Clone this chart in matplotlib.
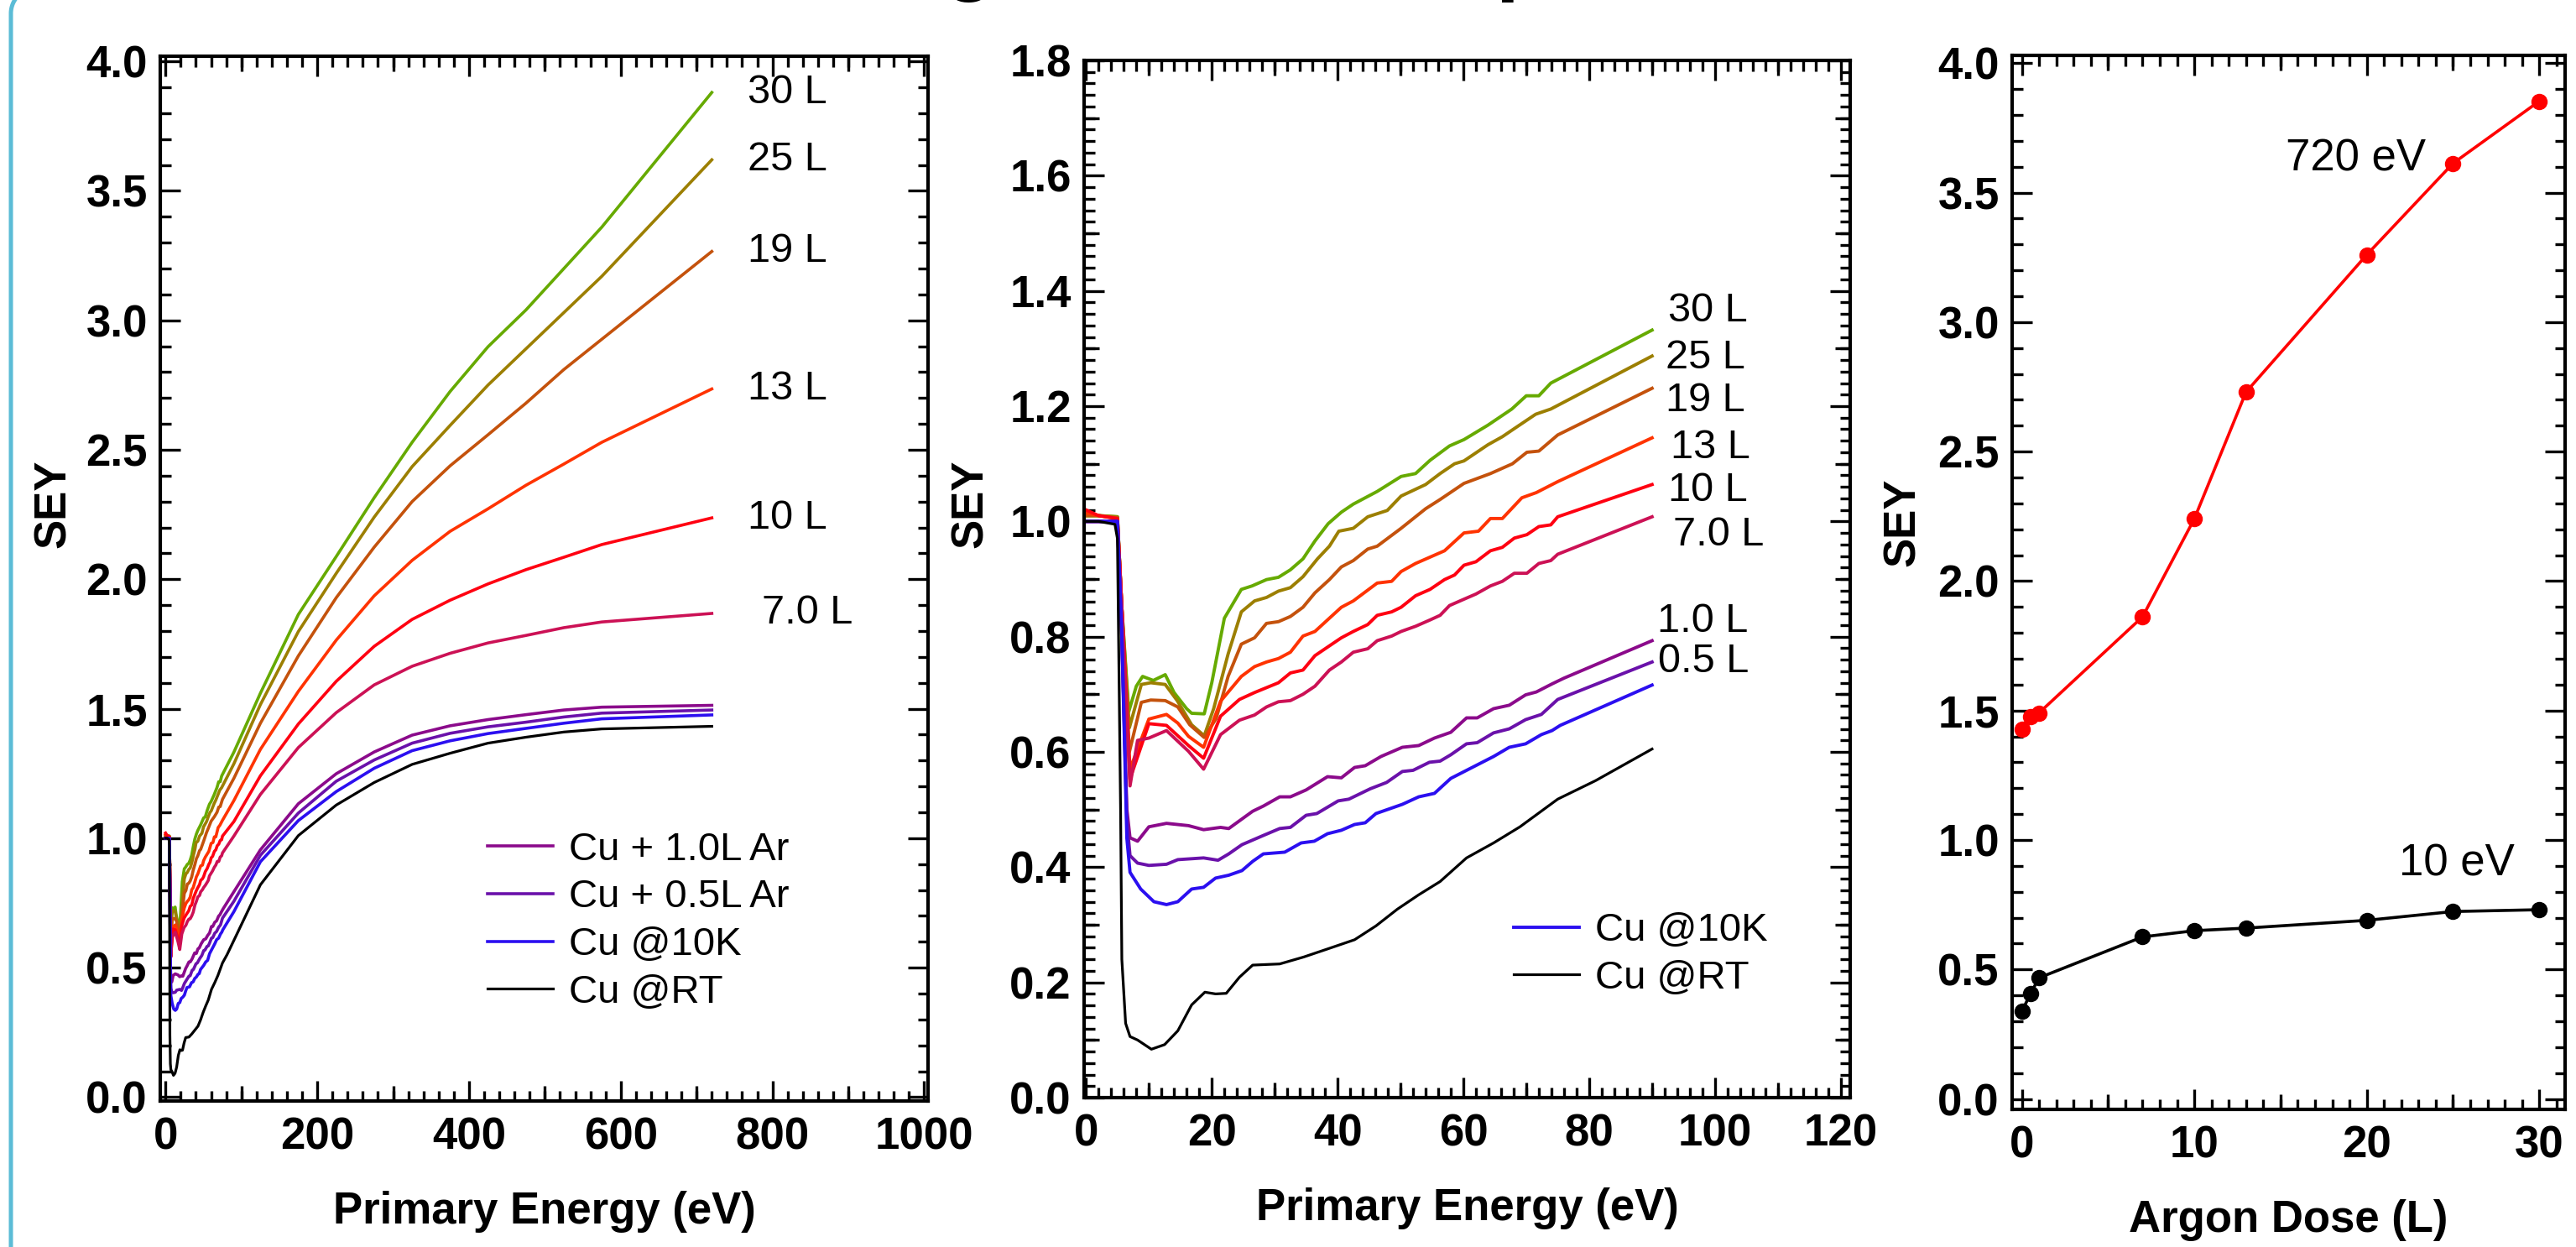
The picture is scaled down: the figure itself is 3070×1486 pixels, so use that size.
import matplotlib
matplotlib.use("Agg")
import numpy as np
import matplotlib.pyplot as plt
from matplotlib import font_manager
from matplotlib.lines import Line2D
from matplotlib.ticker import MultipleLocator, FormatStrFormatter

names = {f.name for f in font_manager.fontManager.ttflist}
NARROW = 'Liberation Sans Narrow' if 'Liberation Sans Narrow' in names else 'Liberation Sans'
plt.rcParams['font.family'] = ['Liberation Sans', 'DejaVu Sans']
plt.rcParams['font.weight'] = 'bold'
plt.rcParams['axes.labelweight'] = 'bold'

# ---- low-energy SEY curves (0-90 eV) ----
e_30L = [0, 2, 5, 5.7, 6.8, 8, 9, 10.7, 12.6, 14, 16, 16.8, 18.8, 20, 22, 24.7, 26.4, 28.7, 30.6, 32.5, 34.5,
         36.4, 38.5, 40.6, 42.5, 46.3, 50.1, 52.4, 54.7, 57.8, 60.1, 63.9, 67.7, 70, 72, 73.9, 90]
s_30L = [1.01, 1.01, 1.008, 0.85, 0.67, 0.714, 0.731, 0.724, 0.734, 0.703, 0.675, 0.667, 0.666, 0.72, 0.832, 0.882,
         0.888, 0.899, 0.903, 0.916, 0.935, 0.966, 0.996, 1.016, 1.03, 1.052, 1.078, 1.083, 1.106, 1.131, 1.142,
         1.167, 1.195, 1.218, 1.218, 1.24, 1.332]
e_25L = [0, 2, 5, 5.7, 6.9, 8.8, 10.3, 12.6, 14.5, 16.8, 18.8, 20.3, 22.6, 24.7, 26.8, 28.7, 30.6, 32.5, 34.5,
         36.8, 38.7, 40.2, 42.5, 44.8, 47.9, 50.1, 54, 56.3, 58.6, 60.1, 63.9, 66.2, 68.5, 71.5, 73.9, 90]
s_25L = [1.01, 1.01, 1.008, 0.85, 0.642, 0.717, 0.72, 0.717, 0.689, 0.647, 0.628, 0.675, 0.77, 0.843, 0.862, 0.868,
         0.879, 0.885, 0.904, 0.935, 0.957, 0.983, 0.988, 1.008, 1.019, 1.044, 1.064, 1.083, 1.1, 1.105, 1.133,
         1.147, 1.164, 1.186, 1.195, 1.287]
e_19L = [0, 2, 5, 5.7, 6.9, 8.8, 10.3, 12.6, 14.6, 16.5, 18.8, 20.7, 22.6, 24.7, 26.8, 28.7, 30.6, 32.5, 34.5,
         36.4, 38.7, 40.6, 42.5, 44.8, 46.3, 50.1, 54, 56.3, 60.1, 64.3, 67.8, 70.1, 72, 75, 90]
s_19L = [1.01, 1.01, 1.006, 0.85, 0.60, 0.686, 0.69, 0.689, 0.678, 0.647, 0.625, 0.658, 0.731, 0.787, 0.798, 0.823,
         0.826, 0.835, 0.851, 0.876, 0.899, 0.921, 0.932, 0.952, 0.957, 0.988, 1.022, 1.038, 1.066, 1.083, 1.1,
         1.12, 1.122, 1.15, 1.231]
e_13L = [0, 2, 5, 5.7, 7, 10, 12.8, 14.6, 16.3, 18.7, 21.4, 24.7, 26.8, 28.7, 30.6, 32.5, 34.5, 36.4, 38.7, 40.6,
         42.5, 46.3, 48.6, 50.1, 52.4, 54.7, 57, 60.1, 62.4, 64.3, 66.2, 69.3, 71.6, 75, 90]
s_13L = [1.015, 1.01, 1.005, 0.85, 0.57, 0.657, 0.665, 0.65, 0.627, 0.608, 0.688, 0.731, 0.748, 0.756, 0.762,
         0.773, 0.801, 0.809, 0.832, 0.851, 0.862, 0.893, 0.896, 0.913, 0.927, 0.938, 0.949, 0.98, 0.983, 1.005,
         1.005, 1.041, 1.05, 1.069, 1.145]
e_10L = [0, 2, 5, 5.7, 7, 10, 12.8, 16.3, 18.7, 21.4, 24.4, 26.8, 30.6, 32.5, 34.5, 36.4, 38.7, 40.6, 42.5, 44.8,
         46.3, 48.6, 50.1, 52.4, 54.7, 57, 58.6, 60.1, 62, 64.3, 66.2, 68.1, 70.1, 72, 73.9, 75, 90]
s_10L = [1.02, 1.01, 1.005, 0.85, 0.553, 0.649, 0.646, 0.611, 0.589, 0.662, 0.691, 0.703, 0.72, 0.737, 0.742,
         0.767, 0.784, 0.798, 0.809, 0.821, 0.837, 0.843, 0.851, 0.871, 0.882, 0.899, 0.907, 0.924, 0.93, 0.949,
         0.955, 0.971, 0.977, 0.991, 0.994, 1.008, 1.064]
e_7L = [0, 2, 5, 5.7, 7, 8.2, 10, 12.8, 16.3, 18.7, 21.4, 24.4, 26.8, 28.7, 30.6, 32.5, 34.5, 36.4, 38.7, 40.6,
        42.5, 44.8, 46.3, 48.6, 50.1, 52.4, 54.7, 56.3, 57.8, 60.1, 62, 64.3, 66.2, 68.1, 70.1, 72, 73.9, 75, 90]
s_7L = [1.0, 1.0, 1.0, 0.85, 0.541, 0.62, 0.624, 0.637, 0.601, 0.57, 0.63, 0.655, 0.664, 0.678, 0.687, 0.689, 0.70,
        0.714, 0.742, 0.756, 0.773, 0.779, 0.793, 0.801, 0.809, 0.818, 0.829, 0.837, 0.854, 0.865, 0.874, 0.888,
        0.896, 0.91, 0.91, 0.927, 0.932, 0.943, 1.008]
e_1L = [0, 2, 5, 5.7, 6.5, 7, 8.2, 10, 12.8, 16.3, 18.7, 21.4, 22.7, 26.5, 28.2, 30.8, 32.5, 35, 38.4, 40.6, 42.7,
        44.4, 46.9, 50.3, 52.9, 55.4, 58, 60.5, 62.2, 64.8, 67.3, 69.9, 71.6, 74.1, 76, 90]
s_1L = [1.0, 1.0, 1.0, 0.8, 0.5, 0.451, 0.445, 0.47, 0.476, 0.472, 0.465, 0.469, 0.467, 0.497, 0.506, 0.522, 0.522,
        0.534, 0.557, 0.555, 0.573, 0.576, 0.592, 0.608, 0.611, 0.624, 0.634, 0.659, 0.659, 0.675, 0.681, 0.699,
        0.704, 0.718, 0.728, 0.793]
e_05L = [0, 2, 5, 5.7, 6.5, 7, 8.2, 10, 12.8, 14.6, 18.7, 21, 22.7, 24.8, 28.2, 30.8, 32.5, 35, 36.7, 40.1, 41.8,
         45.2, 47.8, 50.3, 52, 54.6, 56.3, 58, 60.5, 62.2, 64.8, 67.3, 69.9, 72.4, 75, 90]
s_05L = [1.0, 1.0, 1.0, 0.8, 0.48, 0.42, 0.407, 0.403, 0.405, 0.413, 0.416, 0.412, 0.423, 0.439, 0.455, 0.467, 0.469,
         0.49, 0.493, 0.515, 0.518, 0.536, 0.547, 0.566, 0.568, 0.582, 0.584, 0.595, 0.614, 0.616, 0.633, 0.64,
         0.656, 0.665, 0.691, 0.756]
e_10K = [0, 2, 5, 5.7, 6.5, 7, 8.7, 10.8, 12.8, 14.6, 16.8, 18.7, 20.6, 22.7, 24.8, 26.5, 28.2, 31.6, 34.2, 36.3,
         38.4, 40.6, 42.7, 44.4, 46.1, 50.3, 52.9, 55.4, 58, 61.4, 64.8, 67.3, 69.9, 72.4, 74.1, 75.4, 90]
s_10K = [1.0, 1.0, 1.0, 0.8, 0.45, 0.391, 0.362, 0.34, 0.335, 0.34, 0.362, 0.365, 0.381, 0.386, 0.394, 0.41, 0.423,
         0.426, 0.442, 0.445, 0.458, 0.464, 0.474, 0.477, 0.493, 0.509, 0.522, 0.528, 0.554, 0.573, 0.592, 0.608,
         0.614, 0.63, 0.637, 0.646, 0.716]
e_RT = [0, 2, 4.6, 5, 5.5, 5.7, 6.3, 7, 8.2, 10.4, 12.5, 14.6, 16.8, 18.9, 20.6, 22.3, 24.4, 26.5, 30.8, 34.6, 38.4,
        42.7, 46.1, 49.5, 52.9, 56.3, 60.5, 64.8, 69, 75, 81, 90]
s_RT = [1.0, 1.0, 0.995, 0.97, 0.5, 0.24, 0.129, 0.106, 0.1, 0.084, 0.092, 0.116, 0.161, 0.183, 0.18, 0.181, 0.209,
        0.23, 0.232, 0.244, 0.258, 0.274, 0.298, 0.327, 0.352, 0.375, 0.416, 0.442, 0.47, 0.518, 0.55, 0.605]

# ---- high-energy points (left panel only) ----
e_hi = [125, 175, 225, 275, 325, 375, 425, 475, 525, 575, 720]
hi_30L = [1.56, 1.864, 2.088, 2.315, 2.529, 2.725, 2.898, 3.04, 3.20, 3.36, 3.88]
hi_25L = [1.516, 1.798, 2.023, 2.24, 2.435, 2.594, 2.75, 2.89, 3.03, 3.17, 3.62]
hi_19L = [1.444, 1.704, 1.929, 2.124, 2.30, 2.438, 2.558, 2.68, 2.81, 2.927, 3.266]
hi_13L = [1.343, 1.567, 1.765, 1.936, 2.073, 2.185, 2.272, 2.363, 2.445, 2.529, 2.735]
hi_10L = [1.241, 1.441, 1.606, 1.741, 1.845, 1.919, 1.982, 2.037, 2.085, 2.134, 2.237]
hi_7L = [1.169, 1.35, 1.485, 1.592, 1.664, 1.714, 1.754, 1.783, 1.813, 1.835, 1.868]
hi_1L = [0.955, 1.133, 1.249, 1.333, 1.398, 1.434, 1.458, 1.477, 1.495, 1.506, 1.513]
hi_05L = [0.934, 1.097, 1.22, 1.302, 1.367, 1.405, 1.43, 1.448, 1.468, 1.483, 1.495]
hi_10K = [0.909, 1.068, 1.18, 1.27, 1.338, 1.376, 1.404, 1.424, 1.444, 1.461, 1.476]
hi_RT = [0.82, 1.01, 1.128, 1.215, 1.285, 1.328, 1.367, 1.39, 1.41, 1.422, 1.432]

# ---- SEY vs argon dose ----
dose = [0, 0.5, 1.0, 7, 10, 13, 20, 25, 30]
sey_720 = [1.427, 1.475, 1.491, 1.862, 2.24, 2.73, 3.26, 3.613, 3.853]
sey_10 = [0.338, 0.406, 0.468, 0.626, 0.65, 0.66, 0.69, 0.724, 0.731]

curves = [  # label, colour, low E, low SEY, high SEY
    ('30 L', '#66aa00', e_30L, s_30L, hi_30L),
    ('25 L', '#9c7f00', e_25L, s_25L, hi_25L),
    ('19 L', '#c4520c', e_19L, s_19L, hi_19L),
    ('13 L', '#ff3300', e_13L, s_13L, hi_13L),
    ('10 L', '#ff0011', e_10L, s_10L, hi_10L),
    ('7.0 L', '#cc1155', e_7L, s_7L, hi_7L),
    ('1.0 L', '#8b0a8b', e_1L, s_1L, hi_1L),
    ('0.5 L', '#6a11aa', e_05L, s_05L, hi_05L),
    ('10K', '#2b0ff0', e_10K, s_10K, hi_10K),
    ('RT', '#000000', e_RT, s_RT, hi_RT),
]
legend1 = {'1.0 L': 'Cu + 1.0L Ar', '0.5 L': 'Cu + 0.5L Ar', '10K': 'Cu @10K', 'RT': 'Cu @RT'}
legend2 = {'10K': 'Cu @10K', 'RT': 'Cu @RT'}
# label text positions in the middle panel (eV, SEY)
lab2_x = [92.6, 92.2, 92.1, 93.0, 92.6, 93.4, 90.8, 90.9]
lab2_y = [1.365, 1.284, 1.209, 1.128, 1.053, 0.977, 0.826, 0.756]

W, H = 3070, 1486
fig = plt.figure(figsize=(W / 100, H / 100), dpi=100)


def px_axes(l, r, t, b):
    return fig.add_axes([l / W, (H - b) / H, (r - l) / W, (b - t) / H])


def medium(ax, which, ticks):
    for loc in (('bottom', 'top') if which == 'x' else ('left', 'right')):
        sec = ax.secondary_xaxis(loc) if which == 'x' else ax.secondary_yaxis(loc)
        if which == 'x':
            sec.set_xticks(ticks, labels=[''] * len(ticks))
        else:
            sec.set_yticks(ticks, labels=[''] * len(ticks))
        sec.tick_params(direction='in', length=13, width=2.4)
        sec.minorticks_off()
        for s in sec.spines.values():
            s.set_visible(False)


def style(ax, xmaj, xmin_, ymaj, ymin_):
    ax.xaxis.set_major_locator(MultipleLocator(xmaj))
    ax.xaxis.set_minor_locator(MultipleLocator(xmin_))
    ax.yaxis.set_major_locator(MultipleLocator(ymaj))
    ax.yaxis.set_minor_locator(MultipleLocator(ymin_))
    ax.yaxis.set_major_formatter(FormatStrFormatter('%.1f'))
    ax.tick_params(which='both', direction='in', top=True, right=True, width=2.4)
    ax.tick_params(which='major', length=17)
    ax.tick_params(which='minor', length=9)
    ax.tick_params(axis='x', pad=13, labelsize=38)
    ax.tick_params(axis='y', pad=11, labelsize=38)
    for s in ax.spines.values():
        s.set_linewidth(3)


ann = dict(fontsize=35, fontweight='normal', family=NARROW, va='center', ha='left')
leg_prop = {'family': NARROW, 'weight': 'normal', 'size': 34}
leg_kw = dict(loc='center left', frameon=False, prop=leg_prop, handlelength=1.65, handletextpad=0.4,
              labelspacing=0.27, borderpad=0, borderaxespad=0)

# ---------- left panel ----------
ax1 = px_axes(191, 1106, 67, 1312)
h1 = []
for lab, c, e, s, hi in curves:
    ln, = ax1.plot(e + e_hi, s + hi, color=c, lw=2.6 if c != '#000000' else 2.3)
    if lab in legend1:
        ln.set_label(legend1[lab])
        h1.append(ln)
    elif lab.endswith('L'):
        ax1.text(786 if lab == '7.0 L' else 767, hi[-1], lab, **ann)
ax1.set_xlim(-7, 1005)
ax1.set_ylim(-0.015, 4.02)
style(ax1, 200, 20, 0.5, 0.1)
medium(ax1, 'x', list(range(100, 1000, 200)))
ax1.set_xlabel('Primary Energy (eV)', fontsize=38, labelpad=28)
ax1.set_ylabel('SEY', fontsize=38)
ax1.yaxis.set_label_coords(-0.112, 0.572)
ax1.legend(handles=h1, bbox_to_anchor=(0.426, 0.172), **leg_kw)

# ---------- middle panel ----------
ax2 = px_axes(1292, 2205, 72, 1308)
h2 = []
for lab, c, e, s, hi in curves:
    ln, = ax2.plot(e, s, color=c, lw=2.8 if c != '#000000' else 2.3)
    if lab in legend2:
        ln.set_label(legend2[lab])
        h2.append(ln)
for (lab, c, e, s, hi), x, y in zip(curves, lab2_x, lab2_y):
    ax2.text(x, y, lab, **ann)
ax2.set_xlim(-0.3, 121.5)
ax2.set_ylim(0, 1.8)
style(ax2, 20, 2, 0.2, 0.02)
medium(ax2, 'x', list(range(10, 121, 20)))
medium(ax2, 'y', [0.1, 0.3, 0.5, 0.7, 0.9, 1.1, 1.3, 1.5, 1.7])
ax2.set_xlabel('Primary Energy (eV)', fontsize=38, labelpad=28)
ax2.set_ylabel('SEY', fontsize=38)
ax2.yaxis.set_label_coords(-0.120, 0.573)
ax2.legend(handles=h2, bbox_to_anchor=(0.561, 0.138), **leg_kw)

# ---------- right panel ----------
ax3 = px_axes(2398, 3057, 66, 1322)
ax3.plot(dose, sey_720, 'o-', color='#ff0000', lw=2.6, ms=13)
ax3.plot(dose, sey_10, 'o-', color='#000000', lw=2.6, ms=13)
ax3.text(15.3, 3.63, '720 eV', fontsize=38, fontweight='normal', va='center', ha='left')
ax3.text(21.85, 0.907, '10 eV', fontsize=38, fontweight='normal', va='center', ha='left')
ax3.set_xlim(-0.56, 31.5)
ax3.set_ylim(-0.04, 4.03)
style(ax3, 10, 1, 0.5, 0.1)
medium(ax3, 'x', [5, 15, 25])
ax3.set_xlabel('Argon Dose (L)', fontsize=38, labelpad=28)
ax3.set_ylabel('SEY', fontsize=38)
ax3.yaxis.set_label_coords(-0.160, 0.557)

# cut-off heading above the plots
fig.text(1155 / W, 1 + 18 / H, 'g', fontsize=72, fontweight='bold', ha='center', va='baseline')
fig.text(1782 / W, 1 + 18 / H, 'p', fontsize=72, fontweight='bold', ha='left', va='baseline')

# slide frame on the left edge: vertical rule bending right just above the top
R, x0, yc = 30, 13, H - 16
t = np.linspace(np.pi, np.pi / 2, 40)
fx = np.concatenate([[x0], x0 + R + R * np.cos(t)])
fy = np.concatenate([[-10], yc + R * np.sin(t)])
fig.add_artist(Line2D(fx / W, fy / H, transform=fig.transFigure, color='#5bbcd6', lw=3.6,
                      solid_capstyle='round'))

fig.savefig('out.png', dpi=100)
